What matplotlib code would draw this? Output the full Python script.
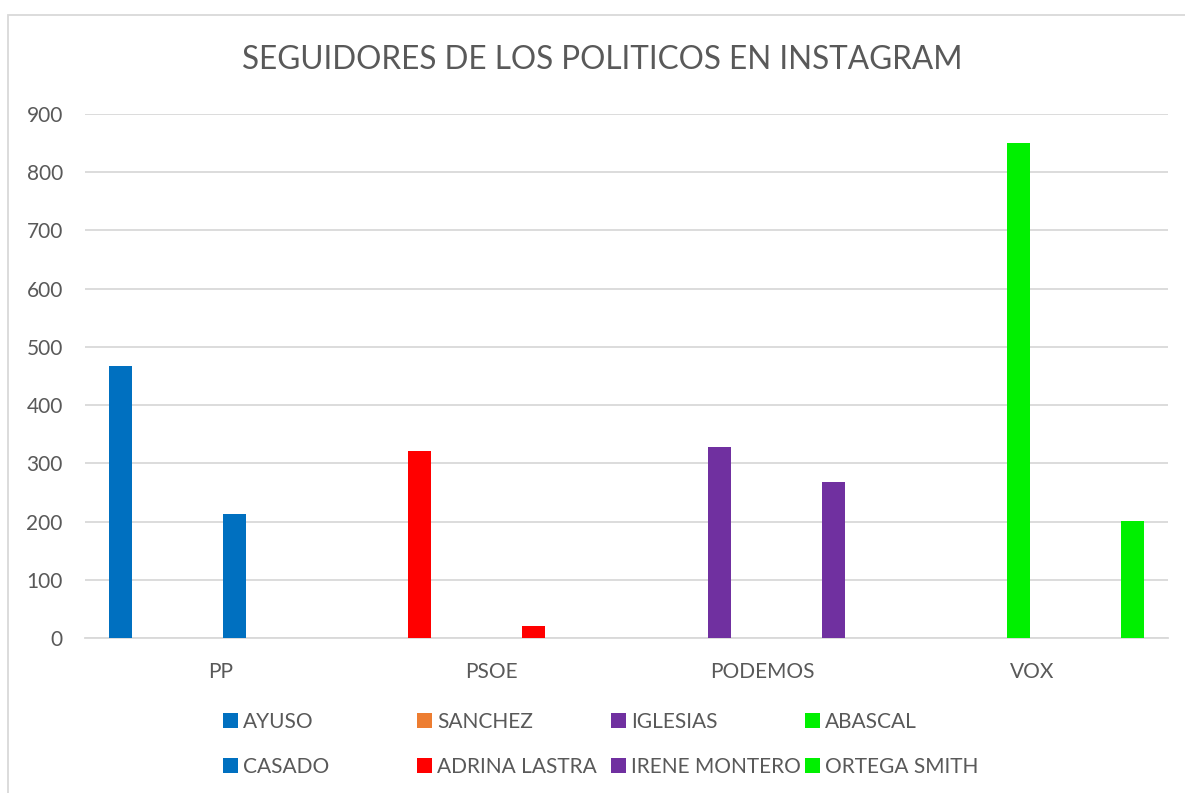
import numpy as np
import matplotlib.pyplot as plt
from matplotlib.patches import Patch, Rectangle

plt.rcParams['font.family'] = ['Lato', 'DejaVu Sans']

# datos
partidos = ['PP', 'PSOE', 'PODEMOS', 'VOX']
series = ['AYUSO', 'SANCHEZ', 'IGLESIAS', 'ABASCAL',
          'CASADO', 'ADRINA LASTRA', 'IRENE MONTERO', 'ORTEGA SMITH']
partido_de = [0, 1, 2, 3, 0, 1, 2, 3]
seguidores = [467, 321, 328, 851, 213, 20, 268, 201]
colores_leyenda = ['#0070C0', '#ED7D31', '#7030A0', '#00F000',
                   '#0070C0', '#FF0000', '#7030A0', '#00F000']
colores_barra = ['#0070C0', '#FF0000', '#7030A0', '#00F000',
                 '#0070C0', '#FF0000', '#7030A0', '#00F000']
yticks = [0, 100, 200, 300, 400, 500, 600, 700, 800, 900]

gris = '#595959'
W, H = 1185, 793
fig = plt.figure(figsize=(W / 100, H / 100), dpi=100)
ax = fig.add_axes([85 / W, 1 - 638 / H, (1168 - 85) / W, (638 - 114) / H])

paso = 0.1054
ancho = 0.085
for i, (nombre, p, v) in enumerate(zip(series, partido_de, seguidores)):
    x = p + (i - 3.5) * paso
    ax.bar(x, v, width=ancho, color=colores_barra[i], zorder=3)

ax.set_xlim(-0.5, 3.5)
ax.set_ylim(0, 900)
ax.set_yticks(yticks)
ax.set_xticks(range(len(partidos)))
ax.set_xticklabels(partidos)
ax.tick_params(axis='both', length=0, labelsize=15, colors=gris)
ax.tick_params(axis='y', pad=16)
ax.tick_params(axis='x', pad=17)
ax.grid(axis='y', color='#D9D9D9', linewidth=1.3, zorder=0)
for s in ['top', 'right', 'left']:
    ax.spines[s].set_visible(False)
ax.spines['bottom'].set_color('#D9D9D9')
ax.spines['bottom'].set_linewidth(1.3)

fig.text(602 / W, 1 - 60 / H, 'SEGUIDORES DE LOS POLITICOS EN INSTAGRAM',
         ha='center', va='center', fontsize=22.7, color=gris)

# leyenda: una columna por partido, se lee por filas
col_x = [223, 417, 611, 805]
for c in range(4):
    handles = [Patch(facecolor=colores_leyenda[k], label=series[k])
               for k in (c, c + 4)]
    leg = fig.legend(handles=handles, loc='center left',
                     bbox_to_anchor=(col_x[c] / W, 1 - 744.5 / H),
                     frameon=False, fontsize=15, borderpad=0, borderaxespad=0,
                     handlelength=0.7, handleheight=0.7,
                     handletextpad=0.25, labelspacing=1.2)
    for t in leg.get_texts():
        t.set_color(gris)

# marco del grafico
fig.patches.append(Rectangle((8 / W, -0.1), 2, 1 - 15 / H + 0.1,
                             transform=fig.transFigure, fill=False,
                             edgecolor='#D9D9D9', linewidth=1.3))

plt.savefig('out.png', dpi=100)
